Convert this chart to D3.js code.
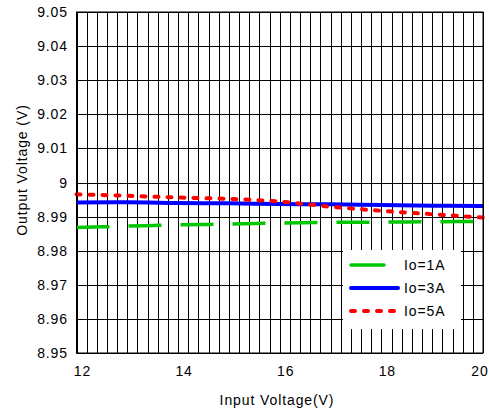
<!DOCTYPE html>
<html>
<head>
<meta charset="UTF-8">
<title></title>
<script src="https://d3js.org/d3.v7.min.js"></script>
<style>
  body { margin: 0; background: #fff; }
  text { font-family: "Liberation Sans", Arial, sans-serif; fill: #000; font-size: 14px; letter-spacing: 0.9px; }
</style>
</head>
<body>
<div id="chart"></div>
<script>
// data
const vin = [12, 13, 14, 15, 16, 17, 18, 19, 20]
const io1A = [8.9868, 8.9872, 8.9876, 8.9878, 8.9881, 8.9883, 8.9884, 8.9885, 8.9886]
const io3A = [8.9941, 8.9942, 8.9940, 8.9939, 8.9937, 8.9936, 8.9934, 8.9932, 8.9931]
const io5A = [8.99654, 8.9961, 8.9956, 8.9952, 8.9944, 8.9929, 8.9917, 8.9907, 8.9897]
const xTicks = [12, 14, 16, 18, 20]
const yTicks = [8.95, 8.96, 8.97, 8.98, 8.99, 9, 9.01, 9.02, 9.03, 9.04, 9.05]
const seriesNames = ['Io=1A', 'Io=3A', 'Io=5A']

const W = 489, H = 414
const pLeft = 76.5, pRight = 483, pTop = 12, pBottom = 353

const svg = d3.select('#chart').append('svg').attr('width', W).attr('height', H)

const x = d3.scaleLinear().domain([12, 20]).range([pLeft, pRight])
const y = d3.scaleLinear().domain([8.95, 9.05]).range([pBottom, pTop])

// grid: vertical every 0.2 V, horizontal every 0.01 V
const vGrid = d3.range(0, 41).map(i => 12 + i * 0.2)
svg.append('g').selectAll('line').data(vGrid).enter().append('line')
  .attr('x1', d => Math.round(x(d)) + 0.5).attr('x2', d => Math.round(x(d)) + 0.5)
  .attr('y1', pTop).attr('y2', pBottom)
  .attr('stroke', '#000').attr('stroke-width', 1)
svg.append('g').selectAll('line').data(yTicks).enter().append('line')
  .attr('x1', pLeft).attr('x2', pRight)
  .attr('y1', d => Math.round(y(d)) + 0.5).attr('y2', d => Math.round(y(d)) + 0.5)
  .attr('stroke', '#000').attr('stroke-width', 1)

// tick labels
svg.append('g').selectAll('text').data(yTicks).enter().append('text')
  .attr('x', 68).attr('y', d => y(d) + 5)
  .attr('text-anchor', 'end')
  .text(d => d === 9 ? '9' : d3.format('.2f')(d))
svg.append('g').selectAll('text').data(xTicks).enter().append('text')
  .attr('x', d => Math.min(x(d) + 6, 480)).attr('y', 376)
  .attr('text-anchor', 'middle')
  .text(d => d)

svg.append('text').attr('x', 277).attr('y', 405).attr('text-anchor', 'middle')
  .text('Input Voltage(V)')
svg.append('text').attr('transform', 'translate(27,170) rotate(-90)')
  .attr('text-anchor', 'middle').text('Output Voltage (V)')

// series
const line = d3.line().x(d => x(d[0])).y(d => y(d[1])).curve(d3.curveMonotoneX)
const series = [
  { name: seriesNames[0], vals: io1A, color: '#00c800', width: 3.5, dash: '33,19', cap: 'butt' },
  { name: seriesNames[1], vals: io3A, color: '#0000ff', width: 4, dash: null, cap: 'butt' },
  { name: seriesNames[2], vals: io5A, color: '#ff0000', width: 4, dash: '4,9', cap: 'round' }
]
svg.append('g').selectAll('path').data(series).enter().append('path')
  .attr('d', s => line(vin.map((v, i) => [v, s.vals[i]])))
  .attr('fill', 'none').attr('stroke', s => s.color).attr('stroke-width', s => s.width)
  .attr('stroke-dasharray', s => s.dash).attr('stroke-linecap', s => s.cap)

// frame
svg.append('rect').attr('x', pLeft).attr('y', pTop).attr('width', pRight - pLeft).attr('height', pBottom - pTop)
  .attr('fill', 'none').attr('stroke', '#000').attr('stroke-width', 1)

// legend
const lg = svg.append('g')
lg.append('rect').attr('x', 343).attr('y', 250).attr('width', 118).attr('height', 79).attr('fill', '#fff')
const legLen = [33, 47, 47]
series.forEach((s, i) => {
  const ly = 265 + i * 23
  lg.append('line').attr('x1', 351).attr('x2', 351 + legLen[i]).attr('y1', ly).attr('y2', ly)
    .attr('stroke', s.color).attr('stroke-width', s.width)
    .attr('stroke-dasharray', i === 2 ? '4,9' : null)
    .attr('stroke-linecap', 'round')
  lg.append('text').attr('x', 404).attr('y', ly + 5).text(s.name)
})
</script>
</body>
</html>
